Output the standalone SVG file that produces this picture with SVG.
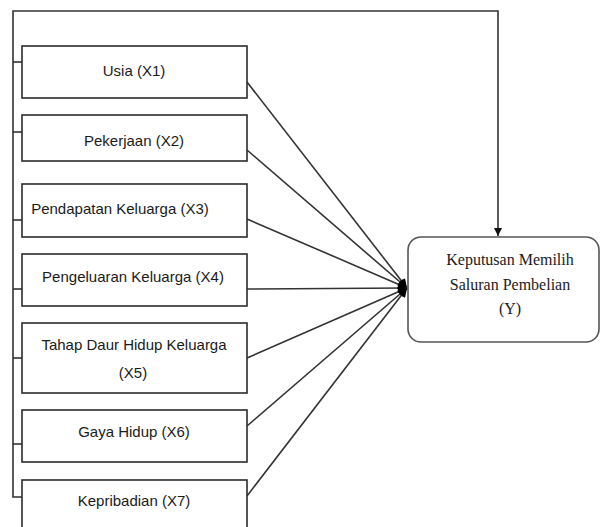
<svg xmlns="http://www.w3.org/2000/svg" width="601" height="527" viewBox="0 0 601 527">
<style>
.box{fill:#fff;stroke:#2b2b2b;stroke-width:1.6}
.ybox{fill:#fff;stroke:#555;stroke-width:1.6}
.lbl{font-family:"Liberation Sans",Arial,sans-serif;font-size:15px;fill:#1a1a1a;text-anchor:middle}
.ylbl{font-family:"Liberation Serif","Times New Roman",serif;font-size:16px;fill:#221a22;text-anchor:middle}
.ln{fill:none;stroke:#333;stroke-width:1.6}
</style>
<defs>
<marker id="ah" viewBox="0 0 10 10" refX="10" refY="5" markerWidth="10" markerHeight="9" markerUnits="userSpaceOnUse" orient="auto">
<path d="M0,0 L10,5 L0,10 z" fill="#000"/>
</marker>
<marker id="ahd" viewBox="0 0 10 10" refX="10" refY="5" markerWidth="10" markerHeight="8" markerUnits="userSpaceOnUse" orient="auto">
<path d="M0,0 L10,5 L0,10 z" fill="#111"/>
</marker>
</defs>
<g id="connectors">
<polyline class="ln" points="22,497 13,497 13,11 498,11 498,236" marker-end="url(#ahd)"/>
<line class="ln" x1="13" y1="62" x2="22" y2="62"/>
<line class="ln" x1="13" y1="132" x2="22" y2="132"/>
<line class="ln" x1="13" y1="220" x2="22" y2="220"/>
<line class="ln" x1="13" y1="289" x2="22" y2="289"/>
<line class="ln" x1="13" y1="358" x2="22" y2="358"/>
<line class="ln" x1="13" y1="444" x2="22" y2="444"/>
<line class="ln" x1="247" y1="82" x2="407" y2="288" marker-end="url(#ah)"/>
<line class="ln" x1="247" y1="150" x2="407" y2="288" marker-end="url(#ah)"/>
<line class="ln" x1="247" y1="219" x2="407" y2="288" marker-end="url(#ah)"/>
<line class="ln" x1="247" y1="289" x2="407" y2="288" marker-end="url(#ah)"/>
<line class="ln" x1="247" y1="358" x2="407" y2="288" marker-end="url(#ah)"/>
<line class="ln" x1="247" y1="426" x2="407" y2="288" marker-end="url(#ah)"/>
<line class="ln" x1="247" y1="496" x2="407" y2="288" marker-end="url(#ah)"/>
</g>
<g id="x1"><rect class="box" x="22" y="46" width="225" height="52"/><text class="lbl" x="134" y="76">Usia (X1)</text></g>
<g id="x2"><rect class="box" x="22" y="115" width="225" height="46"/><text class="lbl" x="134" y="146">Pekerjaan (X2)</text></g>
<g id="x3"><rect class="box" x="22" y="184" width="225" height="53"/><text class="lbl" x="120" y="214">Pendapatan Keluarga (X3)</text></g>
<g id="x4"><rect class="box" x="22" y="254" width="225" height="52"/><text class="lbl" x="133" y="282">Pengeluaran Keluarga (X4)</text></g>
<g id="x5"><rect class="box" x="22" y="323" width="225" height="70"/><text class="lbl" x="134" y="350">Tahap Daur Hidup Keluarga</text><text class="lbl" x="133" y="378">(X5)</text></g>
<g id="x6"><rect class="box" x="22" y="410" width="225" height="52"/><text class="lbl" x="134" y="437">Gaya Hidup (X6)</text></g>
<g id="x7"><rect class="box" x="22" y="480" width="225" height="60"/><text class="lbl" x="134" y="506">Kepribadian (X7)</text></g>
<g id="y"><rect class="ybox" x="408" y="237" width="191" height="105" rx="13" ry="13"/>
<text class="ylbl" x="510" y="265">Keputusan Memilih</text>
<text class="ylbl" x="510" y="290">Saluran Pembelian</text>
<text class="ylbl" x="510" y="314">(Y)</text></g>
</svg>
